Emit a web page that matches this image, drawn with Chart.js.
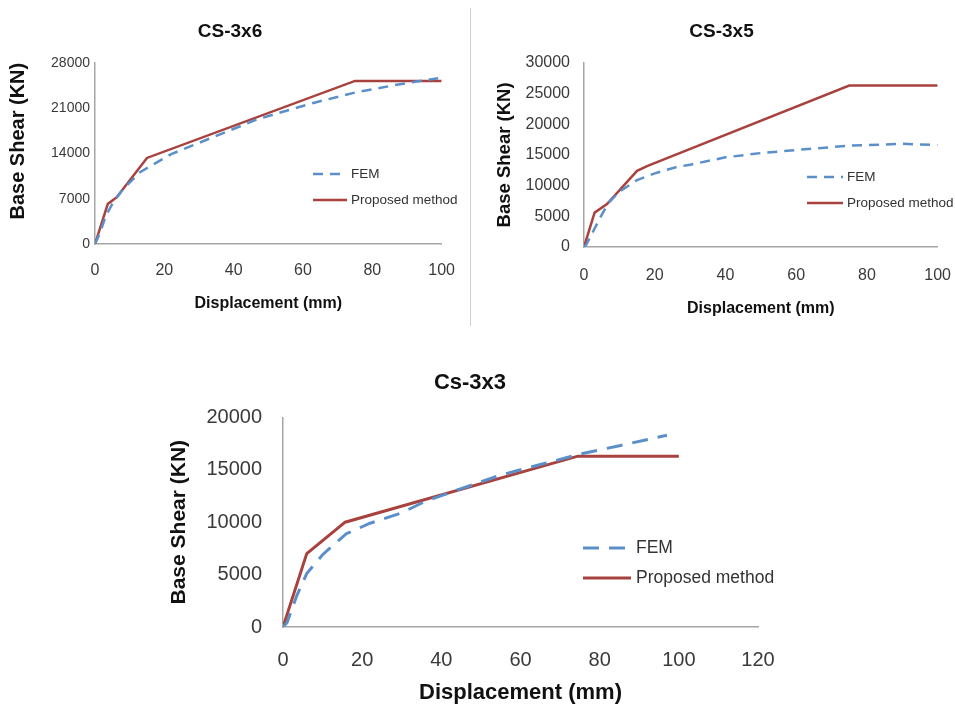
<!DOCTYPE html>
<html>
<head>
<meta charset="utf-8">
<title>Base shear vs displacement</title>
<script src="https://cdn.jsdelivr.net/npm/chart.js@4.4.1/dist/chart.umd.min.js"></script>
<style>
    html, body { margin: 0; padding: 0; background: #fff; }
    body { width: 955px; height: 711px; position: relative; overflow: hidden; }
    .panel { position: absolute; }
    .sep { position: absolute; left: 470px; top: 8px; width: 1px; height: 318px; background: #cfcfcf; }
</style>
</head>
<body>
<div class="panel" style="left:0;top:0;width:472px;height:330px"><canvas id="cs3x6"></canvas></div>
<div class="sep"></div>
<div class="panel" style="left:475px;top:0;width:495px;height:330px"><canvas id="cs3x5"></canvas></div>
<div class="panel" style="left:150px;top:340px;width:650px;height:371px"><canvas id="cs3x3"></canvas></div>

<script>
// ---- data (displacement in mm, base shear in kN) ----
const cs3x6FemDisp = [0, 1.5, 3, 5, 8, 13, 22, 34, 47, 63, 75, 88, 99];
const cs3x6FemShear = [0, 1800, 4200, 6200, 8400, 11100, 13900, 16500, 19300, 21800, 23400, 24700, 25600];
const cs3x6PropDisp = [0, 3.7, 6.2, 15, 75, 100];
const cs3x6PropShear = [0, 6200, 7200, 13300, 25200, 25200];

const cs3x5FemDisp = [0, 0.6, 2.5, 4.5, 6.8, 10, 15, 20, 26, 30, 40, 50, 60, 75, 90, 100];
const cs3x5FemShear = [0, 330, 2450, 4700, 7100, 9000, 10900, 12000, 13000, 13400, 14600, 15300, 15800, 16500, 16800, 16600];
const cs3x5PropDisp = [0, 3, 6.5, 15, 18, 75, 100];
const cs3x5PropShear = [0, 5600, 7000, 12400, 13200, 26300, 26300];

const cs3x3FemDisp = [0, 1, 3.5, 6, 10, 16, 22, 30, 36, 45, 55, 65, 75, 85, 97];
const cs3x3FemShear = [0, 400, 3000, 5100, 6900, 8900, 9900, 10900, 12000, 13200, 14500, 15500, 16500, 17300, 18300];
const cs3x3PropDisp = [0, 6, 15.7, 74.5, 100];
const cs3x3PropShear = [0, 7000, 10000, 16300, 16300];

const seriesLabels = ['FEM', 'Proposed method'];
const xAxisLabel = 'Displacement (mm)';
const yAxisLabel = 'Base Shear (KN)';

const FONT = '"Liberation Sans", Arial, sans-serif';
const FEM_COLOR = '#5b8fc9';
const PROP_COLOR = '#a8423f';
const AXIS_COLOR = '#a6a6a6';
const TICK_COLOR = '#3a3a3a';

Chart.defaults.font.family = FONT;

/**
 * Zip two value arrays into {x, y} points
 */
function toPoints(xs, ys) {
    return xs.map((x, i) => ({ x, y: ys[i] }));
}

/**
 * Legend drawn inside the plot, like the Excel originals
 */
const insideLegend = {
    id: 'insideLegend',
    afterDraw(chart, args, opts) {
        const { ctx } = chart;
        ctx.save();
        ctx.font = `${opts.fontSize}px ${FONT}`;
        ctx.textBaseline = 'middle';
        chart.data.datasets.forEach((ds, i) => {
            const y = opts.y + i * opts.rowGap;
            ctx.beginPath();
            ctx.strokeStyle = ds.borderColor;
            ctx.lineWidth = ds.borderWidth;
            ctx.setLineDash(ds.borderDash || []);
            ctx.moveTo(opts.x, y);
            ctx.lineTo(opts.x + opts.lineLen, y);
            ctx.stroke();
            ctx.setLineDash([]);
            ctx.fillStyle = '#333';
            ctx.fillText(ds.label, opts.x + opts.lineLen + opts.textGap, y);
        });
        ctx.restore();
    }
};

/**
 * Build one capacity-curve chart
 * @param {string} canvasId - Canvas element ID
 * @param {Object} p - data and layout settings
 */
function makeChart(canvasId, p) {
    const ctx = document.getElementById(canvasId).getContext('2d');
    return new Chart(ctx, {
        type: 'line',
        data: {
            datasets: [
                {
                    label: seriesLabels[0],
                    data: toPoints(p.femDisp, p.femShear),
                    borderColor: FEM_COLOR,
                    borderWidth: p.lineWidth,
                    borderDash: p.dash,
                    pointRadius: 0,
                    tension: 0,
                },
                {
                    label: seriesLabels[1],
                    data: toPoints(p.propDisp, p.propShear),
                    borderColor: PROP_COLOR,
                    borderWidth: p.lineWidth,
                    pointRadius: 0,
                    tension: 0,
                },
            ],
        },
        options: {
            responsive: true,
            maintainAspectRatio: false,
            animation: false,
            layout: { padding: p.padding },
            plugins: {
                legend: { display: false },
                tooltip: { enabled: false },
                title: {
                    display: true,
                    text: p.title,
                    color: '#111',
                    font: { size: p.titleSize, weight: 'bold' },
                    padding: p.titlePad,
                },
                insideLegend: p.legend,
            },
            scales: {
                x: {
                    type: 'linear',
                    min: 0,
                    max: p.xMax,
                    ticks: {
                        stepSize: 20,
                        color: TICK_COLOR,
                        padding: p.xTickPad,
                        maxRotation: 0,
                        font: { size: p.xTickSize },
                    },
                    grid: { display: false, drawTicks: false },
                    border: { color: AXIS_COLOR, width: 1.5 },
                    title: {
                        display: true,
                        text: xAxisLabel,
                        color: '#111',
                        font: { size: p.xTitleSize, weight: 'bold' },
                        padding: { top: 0, bottom: p.xTitlePad },
                    },
                    afterFit: s => { s.height = p.xHeight; },
                },
                y: {
                    min: 0,
                    max: p.yMax,
                    ticks: {
                        stepSize: p.yStep,
                        color: TICK_COLOR,
                        padding: p.yTickPad,
                        font: { size: p.yTickSize },
                        callback: v => String(v),
                    },
                    grid: { display: false, drawTicks: false },
                    border: { color: AXIS_COLOR, width: 1.5 },
                    title: {
                        display: true,
                        text: yAxisLabel,
                        align: p.yTitleAlign,
                        color: '#111',
                        font: { size: p.yTitleSize, weight: 'bold' },
                        padding: { top: p.yTitlePad, bottom: 0 },
                    },
                    afterFit: s => { s.width = p.yWidth; },
                },
            },
        },
        plugins: [insideLegend],
    });
}

makeChart('cs3x6', {
    title: 'CS-3x6',
    femDisp: cs3x6FemDisp, femShear: cs3x6FemShear,
    propDisp: cs3x6PropDisp, propShear: cs3x6PropShear,
    xMax: 100, yMax: 28000, yStep: 7000,
    lineWidth: 2.5, dash: [10, 7],
    padding: { left: 14, right: 26, top: 14, bottom: 10 },
    titleSize: 19, titlePad: { top: 6, bottom: 20 },
    xTickSize: 16, yTickSize: 14, xTitleSize: 16, yTitleSize: 20,
    xHeight: 76, xTickPad: 17, xTitlePad: 7,
    yWidth: 81, yTickPad: 5, yTitlePad: -8, yTitleAlign: 'end',
    legend: { x: 313, y: 174, rowGap: 26, lineLen: 34, textGap: 4, fontSize: 13.5 },
});

makeChart('cs3x5', {
    title: 'CS-3x5',
    femDisp: cs3x5FemDisp, femShear: cs3x5FemShear,
    propDisp: cs3x5PropDisp, propShear: cs3x5PropShear,
    xMax: 100, yMax: 30000, yStep: 5000,
    lineWidth: 2.5, dash: [10, 7],
    padding: { left: 0, right: 2, top: 14, bottom: 10 },
    titleSize: 19, titlePad: { top: 6, bottom: 20 },
    xTickSize: 16, yTickSize: 16, xTitleSize: 16, yTitleSize: 18.5,
    xHeight: 73, xTickPad: 19, xTitlePad: 2,
    yWidth: 109, yTickPad: 14, yTitlePad: 19, yTitleAlign: 'center',
    legend: { x: 332, y: 177, rowGap: 26, lineLen: 36, textGap: 4, fontSize: 13.5 },
});

makeChart('cs3x3', {
    title: 'Cs-3x3',
    femDisp: cs3x3FemDisp, femShear: cs3x3FemShear,
    propDisp: cs3x3PropDisp, propShear: cs3x3PropShear,
    xMax: 120, yMax: 20000, yStep: 5000,
    lineWidth: 3, dash: [16, 10],
    padding: { left: 32, right: 42, top: 10, bottom: 5 },
    titleSize: 22, titlePad: { top: 20, bottom: 21 },
    xTickSize: 20, yTickSize: 20, xTitleSize: 22, yTitleSize: 21,
    xHeight: 79, xTickPad: 21, xTitlePad: 0,
    yWidth: 101, yTickPad: 21, yTitlePad: -15, yTitleAlign: 'center',
    legend: { x: 433, y: 208, rowGap: 30, lineLen: 48, textGap: 5, fontSize: 17.5 },
});
</script>
</body>
</html>
